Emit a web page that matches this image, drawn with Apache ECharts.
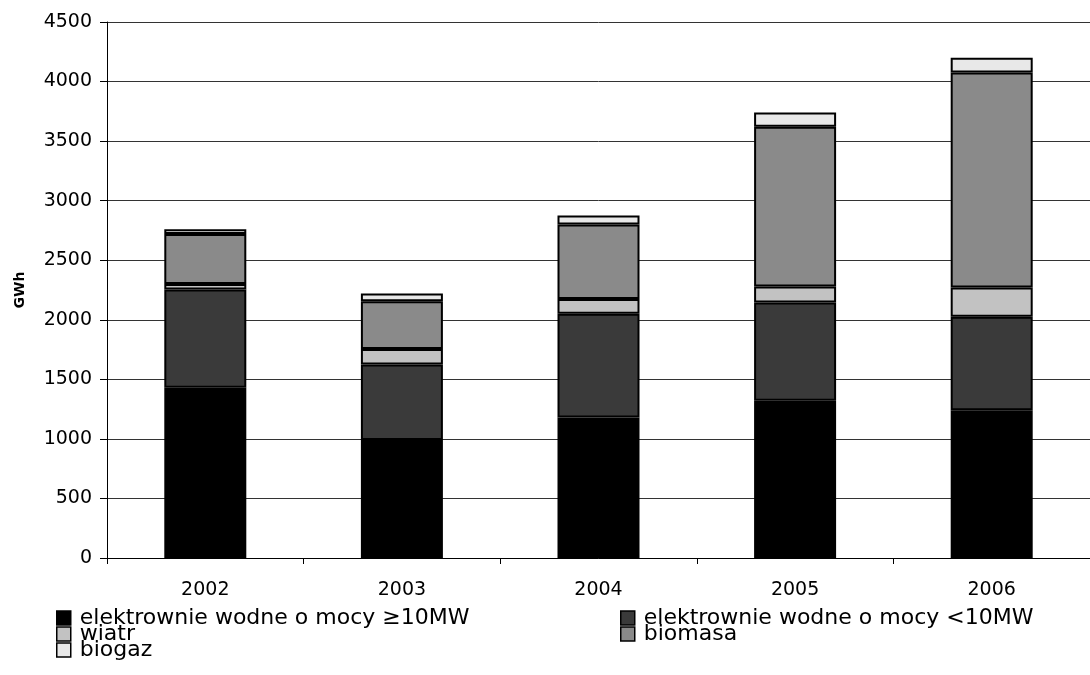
<!DOCTYPE html>
<html>
<head>
<meta charset="utf-8">
<script src="https://cdn.jsdelivr.net/npm/echarts@6/dist/echarts.min.js"></script>
<style>
html,body{margin:0;padding:0;background:#fff;}
#chart{width:1090px;height:675px;}
</style>
</head>
<body>
<div id="chart"></div>
<script>
const years = ['2002', '2003', '2004', '2005', '2006'];
const hydroLarge = [1430, 990, 1180, 1320, 1240];
const hydroSmall = [825, 635, 870, 825, 785];
const wind = [45, 130, 125, 135, 245];
const biomass = [420, 400, 625, 1340, 1805];
const biogas = [40, 65, 75, 120, 125];
const seriesNames = [
  'elektrownie wodne o mocy \u226510MW',
  'elektrownie wodne o mocy <10MW',
  'wiatr',
  'biomasa',
  'biogaz'
];
const yTicks = { min: 0, max: 4500, interval: 500 };

const colors = ['#000000', '#3a3a3a', '#c2c2c2', '#8a8a8a', '#e8e8e8'];
const dataSets = [hydroLarge, hydroSmall, wind, biomass, biogas];
const FONT = 'DejaVu Sans';

// legend placement: [left, top] for each series entry
const legendPos = [[56, 607], [620, 607], [56, 623], [620, 623], [56, 639]];

const chart = echarts.init(document.getElementById('chart'), null, { renderer: 'canvas' });
const legends = seriesNames.map((n, i) => ({
  orient: 'horizontal',
  left: legendPos[i][0],
  top: legendPos[i][1],
  padding: 0,
  itemWidth: 14,
  itemHeight: 14,
  itemGap: 0,
  icon: 'rect',
  selectedMode: false,
  data: [n],
  itemStyle: { borderColor: '#000', borderWidth: 1.5 },
  textStyle: { fontFamily: FONT, fontSize: 22, color: '#000', lineHeight: 15, padding: [1, 0, 0, 4] }
}));

chart.setOption({
  animation: false,
  backgroundColor: '#fff',
  grid: { left: 107, top: 22, width: 995, bottom: 117, containLabel: false },
  legend: legends,
  xAxis: {
    type: 'category',
    data: years,
    axisLine: { lineStyle: { color: '#000', width: 1 } },
    axisTick: { show: true, length: 6, lineStyle: { color: '#000' } },
    axisLabel: { color: '#000', fontFamily: FONT, fontSize: 19, margin: 23 }
  },
  yAxis: {
    type: 'value',
    min: yTicks.min,
    max: yTicks.max,
    interval: yTicks.interval,
    name: 'GWh',
    nameLocation: 'middle',
    nameGap: 80,
    nameRotate: 90,
    nameTextStyle: { fontFamily: FONT, fontSize: 14, fontWeight: 'bold', color: '#000' },
    axisLine: { show: true, lineStyle: { color: '#000', width: 1 } },
    axisTick: { show: true, length: 7, lineStyle: { color: '#000' } },
    axisLabel: { color: '#000', fontFamily: FONT, fontSize: 19, margin: 15, formatter: v => String(v) },
    splitLine: { show: true, lineStyle: { color: '#333', width: 1 } }
  },
  series: dataSets.map((d, i) => ({
    name: seriesNames[i],
    type: 'bar',
    stack: 'total',
    barWidth: 82,
    data: d,
    itemStyle: { color: colors[i], borderColor: '#000', borderWidth: 2 }
  }))
});
</script>
</body>
</html>
